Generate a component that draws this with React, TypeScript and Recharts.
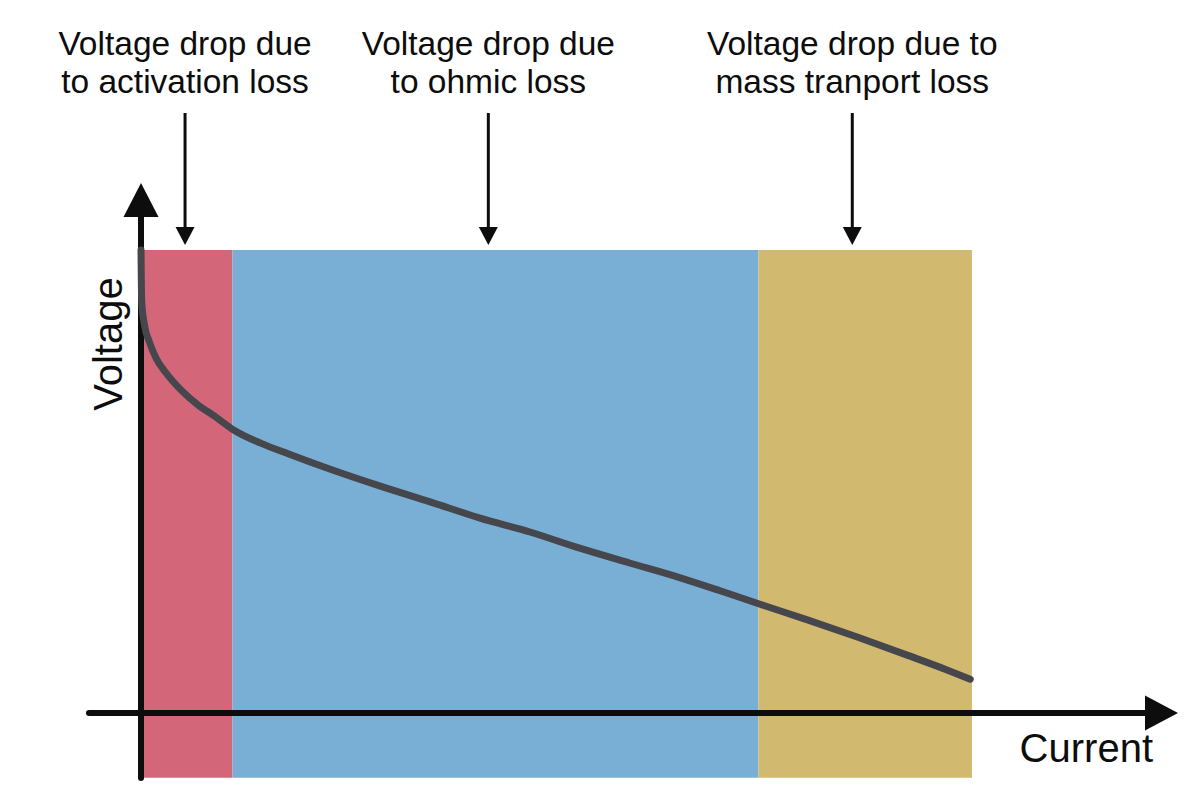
import React from 'react'
import { ComposedChart, Line, XAxis, YAxis, ReferenceArea, ReferenceLine } from 'recharts'

// polarisation curve, current in % of the max, voltage normalised to open circuit
const current = [0, 0.03, 0.09, 0.4, 1.0, 1.8, 3.0, 4.8, 6.9, 8.8, 11.2, 14.4, 17.7, 22.7, 28.8, 34.8, 40.8, 46.8, 52.8, 58.8, 64.9, 69.7, 74.5, 80.2, 86.2, 92.2, 97.0, 99.8]
const voltage = [1.0, 0.946, 0.888, 0.84, 0.802, 0.767, 0.735, 0.698, 0.665, 0.642, 0.611, 0.583, 0.56, 0.527, 0.49, 0.456, 0.421, 0.391, 0.356, 0.324, 0.292, 0.264, 0.235, 0.201, 0.164, 0.125, 0.093, 0.073]

// loss regions
const regionNames = ['activation', 'ohmic', 'mass transport']
const regionStart = [0, 11, 74.3]
const regionEnd = [11, 74.3, 100]
const regionColors = ['#d46679', '#7aafd5', '#d1b970']

// annotations above the regions
const annotationX = [5.3, 41.8, 85.6]
const annotationText = [
  ['Voltage drop due', 'to activation loss'],
  ['Voltage drop due', 'to ohmic loss'],
  ['Voltage drop due to', 'mass tranport loss'],
]

const data = current.map((c, i) => ({ current: c, voltage: voltage[i] }))

const FONT = '"Liberation Sans", Arial, sans-serif'
const INK = '#0d0d0d'

const VerticalAxis = (p: any) => {
  const x = p.x1
  const top = Math.min(p.y1, p.y2)
  const bottom = Math.max(p.y1, p.y2)
  return (
    <g>
      <line x1={x} x2={x} y1={bottom - 3} y2={top + 30} stroke={INK} strokeWidth={6} strokeLinecap="round" />
      <polygon points={`${x},${top} ${x - 17.5},${top + 34} ${x + 17.5},${top + 34}`} fill={INK} />
      <text
        transform={`translate(${x - 19},${top + 161}) rotate(-90)`}
        textAnchor="middle"
        fontFamily={FONT}
        fontSize={40}
        fill={INK}
      >
        Voltage
      </text>
    </g>
  )
}

const HorizontalAxis = (p: any) => {
  const y = p.y1
  const left = Math.min(p.x1, p.x2)
  const right = Math.max(p.x1, p.x2)
  return (
    <g>
      <line x1={left + 3} x2={right - 30} y1={y} y2={y} stroke={INK} strokeWidth={6} strokeLinecap="round" />
      <polygon points={`${right},${y} ${right - 33},${y - 17.5} ${right - 33},${y + 17.5}`} fill={INK} />
      <text x={right - 25} y={y + 49} textAnchor="end" fontFamily={FONT} fontSize={40} fill={INK}>
        Current
      </text>
    </g>
  )
}

const annotationShape = (lines: string[]) => (p: any) => {
  const x = p.x1
  const top = Math.min(p.y1, p.y2)
  return (
    <g>
      <line x1={x} x2={x} y1={top - 70} y2={top + 46} stroke={INK} strokeWidth={3} />
      <polygon points={`${x},${top + 62} ${x - 9.5},${top + 44} ${x + 9.5},${top + 44}`} fill={INK} />
      {lines.map((t, i) => (
        <text key={i} x={x} y={top - 128 + i * 38} textAnchor="middle" fontFamily={FONT} fontSize={33.5} fill={INK}>
          {t}
        </text>
      ))}
    </g>
  )
}

export default function App() {
  return (
    <div style={{ position: 'absolute', left: 0, top: 0, background: '#fff' }}>
      <ComposedChart
        width={1200}
        height={808}
        data={data}
        margin={{ top: 183, right: 22, bottom: 27, left: 86 }}
      >
        <XAxis dataKey="current" type="number" domain={[-6.62, 124.8]} allowDataOverflow hide />
        <YAxis type="number" domain={[-0.147, 1.145]} allowDataOverflow hide />
        {regionNames.map((name, i) => (
          <ReferenceArea
            key={name}
            x1={regionStart[i]}
            x2={regionEnd[i]}
            y1={-0.14}
            y2={1}
            fill={regionColors[i]}
            fillOpacity={1}
            stroke="none"
            ifOverflow="visible"
          />
        ))}
        <ReferenceLine y={0} shape={HorizontalAxis} />
        <ReferenceLine x={0} shape={VerticalAxis} />
        {annotationX.map((ax, i) => (
          <ReferenceLine key={i} x={ax} shape={annotationShape(annotationText[i])} />
        ))}
        <Line
          dataKey="voltage"
          type="monotone"
          stroke="#46474d"
          strokeWidth={7}
          strokeLinecap="round"
          dot={false}
          activeDot={false}
          isAnimationActive={false}
        />
      </ComposedChart>
    </div>
  )
}
